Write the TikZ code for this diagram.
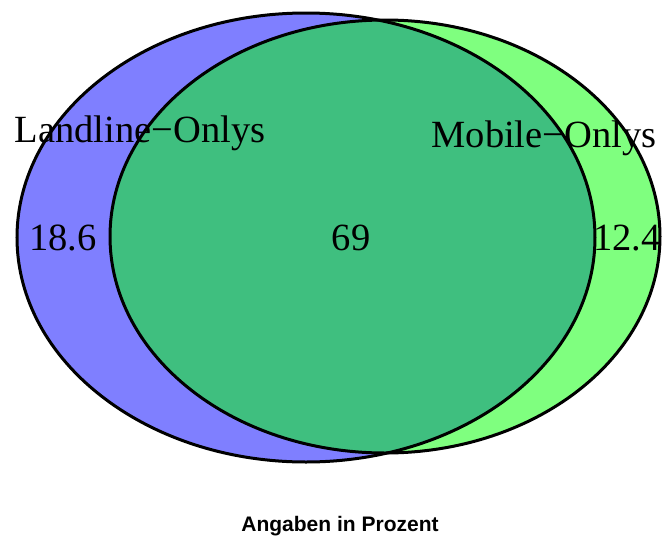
\documentclass[tikz,border=0pt]{standalone}
\usepackage{fontspec}
\setmainfont{Liberation Serif}
\setsansfont{Liberation Sans}

\tikzset{
  setfill/.style={fill opacity=0.5},
  setline/.style={draw=black, line width=3pt},
  setlabel/.style={anchor=base, inner sep=0pt, font=\fontsize{38.5}{40}\selectfont},
}

\begin{document}
\begin{tikzpicture}[x=1pt, y=-1pt]
  \useasboundingbox (0,0) rectangle (665,536);

  % the two sets
  \fill[setfill, blue]  (306,237.5) ellipse [x radius=289, y radius=224.5];
  \fill[setfill, green] (385,236.5) ellipse [x radius=275, y radius=216.5];
  \draw[setline] (306,237.5) ellipse [x radius=289, y radius=224.5];
  \draw[setline] (385,236.5) ellipse [x radius=275, y radius=216.5];

  \node[setlabel] (landline) at (140,142) {Landline−Onlys};
  \node[setlabel] (mobile) at (544,147) {Mobile−Onlys};
  \node[setlabel] (onlyland) at (63,250) {18.6};
  \node[setlabel] (both) at (351,250) {69};
  \node[setlabel] (onlymobile) at (627,250) {12.4};

  \node[anchor=base, inner sep=0pt, font=\sffamily\bfseries\fontsize{21}{22}\selectfont] (unit) at (340,531) {Angaben in Prozent};
  % \node (n1) at (340,500) {};
\end{tikzpicture}
\end{document}
